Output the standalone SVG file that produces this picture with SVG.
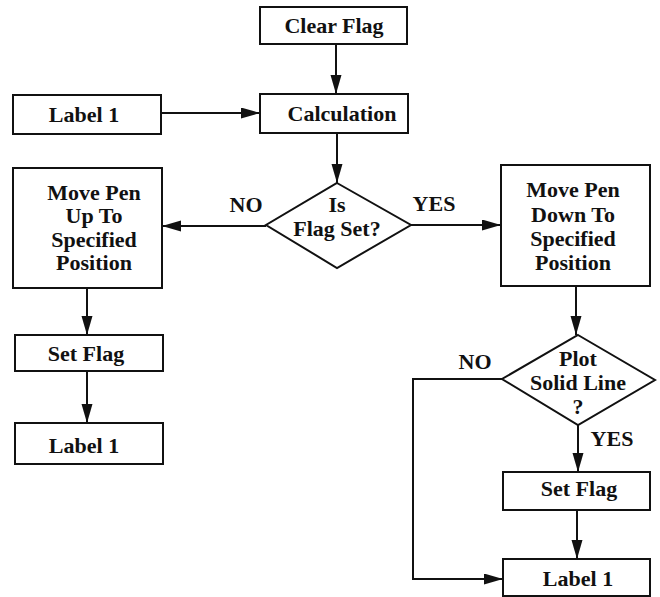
<svg xmlns="http://www.w3.org/2000/svg" width="660" height="597" viewBox="0 0 660 597">
<style>
.box{fill:#fff;stroke:#111;stroke-width:2}
.t{font-family:"Liberation Serif",serif;font-weight:bold;font-size:22px;fill:#111;text-anchor:middle}
.c{fill:none;stroke:#111;stroke-width:2}
</style>
<defs>
<marker id="ah" markerUnits="userSpaceOnUse" markerWidth="20" markerHeight="12" refX="19" refY="5.5" orient="auto">
<path d="M0,0 L19,5.5 L0,11 z" fill="#111"/>
</marker>
</defs>
<rect width="660" height="597" fill="#fff"/>
<g id="connectors">
<path class="c" d="M336,44 V94" marker-end="url(#ah)"/>
<path class="c" d="M161,113 H260" marker-end="url(#ah)"/>
<path class="c" d="M337,133 V183" marker-end="url(#ah)"/>
<path class="c" d="M266,226 H162" marker-end="url(#ah)"/>
<path class="c" d="M411,225 H501" marker-end="url(#ah)"/>
<path class="c" d="M87,288 V335" marker-end="url(#ah)"/>
<path class="c" d="M87,371 V423" marker-end="url(#ah)"/>
<path class="c" d="M576,286 V335" marker-end="url(#ah)"/>
<path class="c" d="M578,425 V472" marker-end="url(#ah)"/>
<path class="c" d="M577,510 V559" marker-end="url(#ah)"/>
<path class="c" d="M502,379 H413 V579 H503" marker-end="url(#ah)"/>
<text class="t" x="246" y="212">NO</text>
<text class="t" x="434" y="211">YES</text>
<text class="t" x="475" y="369">NO</text>
<text class="t" x="612" y="446">YES</text>
</g>
<g id="clear-flag"><rect class="box" x="260" y="7" width="147" height="37"/><text class="t" x="334" y="33">Clear Flag</text></g>
<g id="calculation"><rect class="box" x="260" y="94" width="148" height="39"/><text class="t" x="342" y="121">Calculation</text></g>
<g id="label1-top"><rect class="box" x="13" y="95" width="148" height="39"/><text class="t" x="84" y="122">Label 1</text></g>
<g id="is-flag-set"><path class="box" d="M337,183 L411,225 L337,268 L266,225 Z"/><text class="t" x="337" y="212">Is</text><text class="t" x="337" y="236">Flag Set?</text></g>
<g id="move-pen-up"><rect class="box" x="13" y="168" width="149" height="120"/>
<text class="t" x="94" y="200">Move Pen</text><text class="t" x="94" y="223">Up To</text><text class="t" x="94" y="247">Specified</text><text class="t" x="94" y="270">Position</text></g>
<g id="move-pen-down"><rect class="box" x="501" y="165" width="149" height="121"/>
<text class="t" x="573" y="197">Move Pen</text><text class="t" x="573" y="222">Down To</text><text class="t" x="573" y="246">Specified</text><text class="t" x="573" y="270">Position</text></g>
<g id="set-flag-left"><rect class="box" x="15" y="335" width="148" height="36"/><text class="t" x="86" y="361">Set Flag</text></g>
<g id="label1-left"><rect class="box" x="15" y="423" width="148" height="41"/><text class="t" x="84" y="453">Label 1</text></g>
<g id="plot-solid-line"><path class="box" d="M578,335 L655,380 L578,425 L502,379 Z"/>
<text class="t" x="578" y="366">Plot</text><text class="t" x="578" y="390">Solid Line</text><text class="t" x="578" y="414">?</text></g>
<g id="set-flag-right"><rect class="box" x="503" y="472" width="147" height="38"/><text class="t" x="579" y="496">Set Flag</text></g>
<g id="label1-right"><rect class="box" x="503" y="559" width="147" height="37"/><text class="t" x="578" y="586">Label 1</text></g>
</svg>
